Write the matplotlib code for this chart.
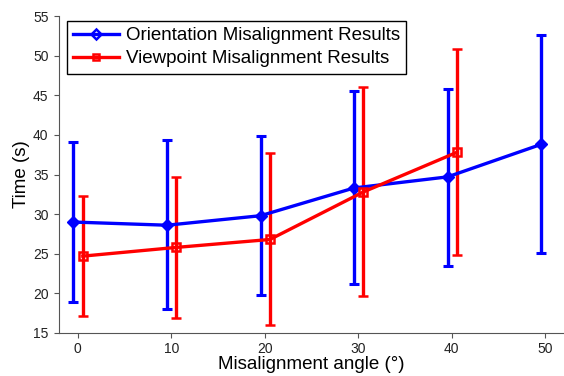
import matplotlib
matplotlib.use("Agg")
import matplotlib.pyplot as plt
from matplotlib.lines import Line2D

plt.rcParams['font.family'] = ['Liberation Sans', 'DejaVu Sans']

angles = [0, 10, 20, 30, 40, 50]

orient_mean = [29.0, 28.6, 29.8, 33.3, 34.7, 38.8]
orient_low = [18.9, 18.0, 19.8, 21.2, 23.5, 25.1]
orient_high = [39.1, 39.3, 39.8, 45.5, 45.8, 52.6]

view_angles = [0, 10, 20, 30, 40]
view_mean = [24.7, 25.8, 26.8, 32.8, 37.8]
view_low = [17.1, 16.9, 16.0, 19.7, 24.9]
view_high = [32.3, 34.7, 37.7, 46.0, 50.8]

x_ticks = [0, 10, 20, 30, 40, 50]
y_ticks = [15, 20, 25, 30, 35, 40, 45, 50, 55]

fig = plt.figure(figsize=(5.64, 3.76), dpi=100)
ax = fig.add_axes([0.1046, 0.1144, 0.8954, 0.843])

# small horizontal offset so the two sets of bars don't overlap
ox = [a - 0.45 for a in angles]
vx = [a + 0.55 for a in view_angles]

o_err = [[m - l for m, l in zip(orient_mean, orient_low)],
         [h - m for m, h in zip(orient_mean, orient_high)]]
v_err = [[m - l for m, l in zip(view_mean, view_low)],
         [h - m for m, h in zip(view_mean, view_high)]]

ax.errorbar(ox, orient_mean, yerr=o_err, color="#0000ff", lw=2.4, elinewidth=2.4,
            capsize=3.5, capthick=2.2, marker="D", ms=6.5, mfc="#0000ff", mec="#0000ff")
ax.errorbar(vx, view_mean, yerr=v_err, color="#ff0000", lw=2.4, elinewidth=2.4,
            capsize=3.5, capthick=2.2, marker="s", ms=5.5, mfc="none", mec="#ff0000", mew=1.8)

ax.set_xlim(-2, 52)
ax.set_ylim(15, 55)
ax.set_xticks(x_ticks)
ax.set_yticks(y_ticks)
ax.tick_params(direction="out", length=3.5, width=0.8, labelsize=10, colors="#555555",
               labelcolor="#222222")
ax.tick_params(axis="x", pad=3)
ax.tick_params(axis="y", pad=4)
ax.spines["top"].set_visible(False)
ax.spines["right"].set_visible(False)
ax.spines["left"].set_color("#555555")
ax.spines["bottom"].set_color("#555555")

ax.set_xlabel("Misalignment angle (°)", fontsize=13.5, labelpad=0)
ax.set_ylabel("Time (s)", fontsize=13.5, labelpad=2)

handles = [
    Line2D([], [], color="#0000ff", lw=2.4, marker="D", ms=5, mfc="none", mec="#0000ff", mew=1.8),
    Line2D([], [], color="#ff0000", lw=2.4, marker="s", ms=4.5, mfc="none", mec="#ff0000", mew=1.8),
]
labels = ["Orientation Misalignment Results", "Viewpoint Misalignment Results"]
leg = ax.legend(handles, labels, loc="upper left", bbox_to_anchor=(0.015, 0.985), borderaxespad=0,
                fontsize=13.5, fancybox=False, framealpha=1, edgecolor="black",
                handlelength=2.45, borderpad=0.35, labelspacing=0.3, handletextpad=0.35)
leg.get_frame().set_linewidth(1.0)

fig.savefig("out.png", dpi=100)
